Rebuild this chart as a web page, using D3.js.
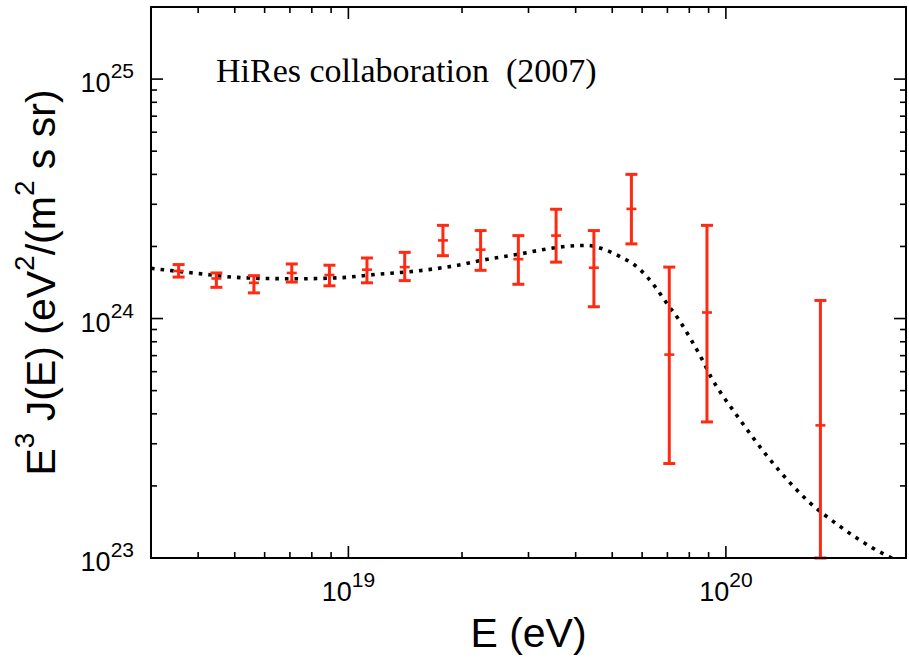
<!DOCTYPE html>
<html>
<head>
<meta charset="utf-8">
<script src="https://cdn.jsdelivr.net/npm/d3@7"></script>
<style>
  html, body { margin: 0; padding: 0; background: #fff; }
  svg { display: block; }
</style>
</head>
<body>
<svg id="chart" width="909" height="660"></svg>
<script>
// ---- data ----
const energyEV = [3.55e18, 4.47e18, 5.62e18, 7.08e18, 8.91e18, 1.12e19, 1.41e19, 1.78e19,
                  2.24e19, 2.82e19, 3.55e19, 4.47e19, 5.62e19, 7.08e19, 8.91e19, 1.78e20];
const flux  = [1.58e24, 1.47e24, 1.41e24, 1.55e24, 1.52e24, 1.60e24, 1.64e24, 2.12e24,
               1.94e24, 1.77e24, 2.22e24, 1.63e24, 2.87e24, 7.07e23, 1.06e24, 3.58e23];
const fluxUpper = [1.68e24, 1.55e24, 1.51e24, 1.69e24, 1.67e24, 1.79e24, 1.89e24, 2.45e24,
                   2.33e24, 2.22e24, 2.86e24, 2.33e24, 4.00e24, 1.64e24, 2.45e24, 1.19e24];
const fluxLower = [1.49e24, 1.35e24, 1.28e24, 1.42e24, 1.37e24, 1.41e24, 1.44e24, 1.83e24,
                   1.59e24, 1.39e24, 1.72e24, 1.12e24, 2.05e24, 2.48e23, 3.70e23, 1.0e23];

const modelE = [3.0e18, 4.03e18, 4.92e18, 6.05e18, 7.46e18, 9.46e18, 1.19e19, 1.52e19, 1.95e19,
                2.34e19, 2.79e19, 3.34e19, 3.74e19, 4.28e19, 4.78e19, 5.33e19, 5.62e19, 6.17e19,
                6.49e19, 6.97e19, 7.55e19, 8.11e19, 8.63e19, 9.16e19, 9.84e19, 1.057e20, 1.18e20,
                1.39e20, 1.65e20, 2.00e20, 2.45e20, 2.75e20, 3.02e20];
const modelFlux = [1.62e24, 1.54e24, 1.49e24, 1.47e24, 1.466e24, 1.48e24, 1.53e24, 1.58e24, 1.67e24,
                   1.77e24, 1.85e24, 1.95e24, 2.00e24, 2.02e24, 1.94e24, 1.79e24, 1.71e24, 1.50e24,
                   1.36e24, 1.16e24, 9.75e23, 8.1e23, 6.8e23, 5.65e23, 4.73e23, 4.04e23, 3.18e23,
                   2.30e23, 1.73e23, 1.36e23, 1.10e23, 1.0e23, 9.3e22];

const xMajor = [1e19, 1e20];
const xMajorExp = ["19", "20"];
const xMinor = [4e18, 5e18, 6e18, 7e18, 8e18, 9e18, 2e19, 3e19, 4e19, 5e19, 6e19, 7e19, 8e19, 9e19];
const yMajor = [1e23, 1e24, 1e25];
const yMajorExp = ["23", "24", "25"];
const yMinor = [2e23, 3e23, 4e23, 5e23, 6e23, 7e23, 8e23, 9e23, 2e24, 3e24, 4e24, 5e24, 6e24, 7e24, 8e24, 9e24];

const annotation = "HiRes collaboration  (2007)";

// ---- layout ----
const L = 151, R = 906, T = 7, B = 558;
const svg = d3.select("#chart");
const x = d3.scaleLog().domain([3e18, 3e20]).range([L, R]);
const y = d3.scaleLog().domain([1e23, 2e25]).range([B, T]);
const RED = "#ff2a12";
const SANS = "'Liberation Sans', Arial, Helvetica, sans-serif";

svg.append("rect").attr("width", 909).attr("height", 660).attr("fill", "#fff");

svg.append("defs").append("clipPath").attr("id", "plotclip")
  .append("rect").attr("x", L).attr("y", T).attr("width", R - L).attr("height", B - T);

// ---- ticks (inward, on all four sides) ----
const tickG = svg.append("g").attr("stroke", "#000").attr("stroke-width", 1.6);
const MAJ = 12, MIN = 6;
xMajor.forEach(v => {
  tickG.append("line").attr("x1", x(v)).attr("x2", x(v)).attr("y1", B).attr("y2", B - MAJ);
  tickG.append("line").attr("x1", x(v)).attr("x2", x(v)).attr("y1", T).attr("y2", T + MAJ);
});
xMinor.forEach(v => {
  tickG.append("line").attr("x1", x(v)).attr("x2", x(v)).attr("y1", B).attr("y2", B - MIN);
  tickG.append("line").attr("x1", x(v)).attr("x2", x(v)).attr("y1", T).attr("y2", T + MIN);
});
yMajor.forEach(v => {
  tickG.append("line").attr("y1", y(v)).attr("y2", y(v)).attr("x1", L).attr("x2", L + MAJ);
  tickG.append("line").attr("y1", y(v)).attr("y2", y(v)).attr("x1", R).attr("x2", R - MAJ);
});
yMinor.forEach(v => {
  tickG.append("line").attr("y1", y(v)).attr("y2", y(v)).attr("x1", L).attr("x2", L + MIN);
  tickG.append("line").attr("y1", y(v)).attr("y2", y(v)).attr("x1", R).attr("x2", R - MIN);
});

// ---- tick labels ----
xMajor.forEach((v, i) => {
  const t = svg.append("text").attr("x", x(v)).attr("y", 601)
    .attr("text-anchor", "middle").attr("font-family", SANS).attr("fill", "#000");
  t.append("tspan").attr("font-size", 27).text("10");
  t.append("tspan").attr("font-size", 21).attr("dy", -14).text(xMajorExp[i]);
});
yMajor.forEach((v, i) => {
  const t = svg.append("text").attr("x", 134).attr("y", y(v) + 13)
    .attr("text-anchor", "end").attr("font-family", SANS).attr("fill", "#000");
  t.append("tspan").attr("font-size", 27).text("10");
  t.append("tspan").attr("font-size", 21).attr("dy", -14).text(yMajorExp[i]);
});

// ---- axis titles ----
svg.append("text").attr("x", (L + R) / 2).attr("y", 647)
  .attr("text-anchor", "middle").attr("font-family", SANS).attr("font-size", 41)
  .attr("fill", "#000").text("E (eV)");

const yt = svg.append("text")
  .attr("transform", `translate(55,${(T + B) / 2}) rotate(-90)`)
  .attr("text-anchor", "middle").attr("font-family", SANS).attr("font-size", 41)
  .attr("fill", "#000");
yt.append("tspan").text("E");
yt.append("tspan").attr("font-size", 28).attr("dy", -21).text("3");
yt.append("tspan").attr("dy", 21).text(" J(E) (eV");
yt.append("tspan").attr("font-size", 28).attr("dy", -21).text("2");
yt.append("tspan").attr("dy", 21).text("/(m");
yt.append("tspan").attr("font-size", 28).attr("dy", -21).text("2");
yt.append("tspan").attr("dy", 21).text(" s sr)");

// ---- annotation ----
svg.append("text").attr("x", 216).attr("y", 82)
  .attr("font-family", "'Liberation Serif', 'Times New Roman', serif")
  .attr("font-size", 34).attr("fill", "#000")
  .style("white-space", "pre").text(annotation);

// ---- model curve (dotted) ----
const model = modelE.map((e, i) => [e, modelFlux[i]]);
svg.append("path")
  .attr("clip-path", "url(#plotclip)")
  .attr("d", d3.line().x(d => x(d[0])).y(d => y(d[1])).curve(d3.curveMonotoneX)(model))
  .attr("fill", "none").attr("stroke", "#000").attr("stroke-width", 3.6)
  .attr("stroke-dasharray", "3.6 6");

// ---- data with error bars ----
const pts = energyEV.map((e, i) => ({ e, f: flux[i], hi: fluxUpper[i], lo: fluxLower[i] }));
const eg = svg.append("g").attr("stroke", RED);
pts.forEach(p => {
  const cx = x(p.e);
  eg.append("line").attr("x1", cx).attr("x2", cx).attr("y1", y(p.hi)).attr("y2", y(p.lo)).attr("stroke-width", 3);
  eg.append("line").attr("x1", cx - 6).attr("x2", cx + 6).attr("y1", y(p.hi)).attr("y2", y(p.hi)).attr("stroke-width", 3);
  eg.append("line").attr("x1", cx - 6).attr("x2", cx + 6).attr("y1", y(p.lo)).attr("y2", y(p.lo)).attr("stroke-width", 3);
  eg.append("line").attr("x1", cx - 5).attr("x2", cx + 5).attr("y1", y(p.f)).attr("y2", y(p.f)).attr("stroke-width", 2.6);
});

// ---- frame ----
svg.append("rect").attr("x", L).attr("y", T).attr("width", R - L).attr("height", B - T)
  .attr("fill", "none").attr("stroke", "#000").attr("stroke-width", 2);
</script>
</body>
</html>
